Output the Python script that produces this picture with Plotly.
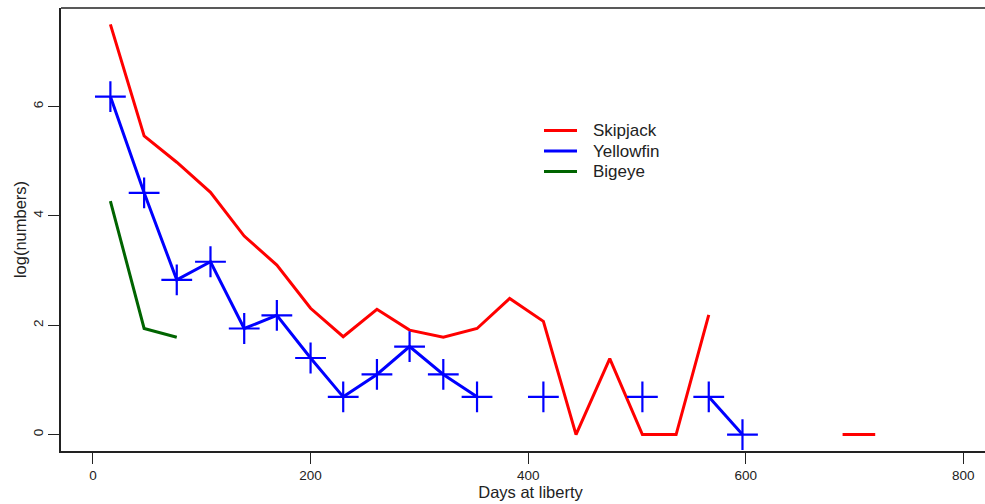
import plotly.graph_objects as go

nan = float("nan")

# Days at liberty (monthly midpoints)
days = [16, 47, 77, 108, 139, 169, 200, 230, 261, 291, 322, 353,
        383, 414, 444, 475, 505, 536, 566, 597, 628, 658, 689, 719]

skipjack = [7.50, 5.46, 4.98, 4.43, 3.63, 3.10, 2.31, 1.79, 2.29, 1.91, 1.78, 1.94,
            2.49, 2.07, 0.00, 1.39, 0.00, 0.00, 2.19, nan, nan, nan, 0.00, 0.00]

yellowfin = [6.18, 4.42, 2.83, 3.16, 1.94, 2.18, 1.40, 0.69, 1.10, 1.61, 1.10, 0.69,
             nan, 0.69, nan, nan, 0.69, nan, 0.69, 0.00, nan, nan, nan, nan]

bigeye_days = [16, 47, 77]
bigeye = [4.27, 1.94, 1.78]

x_ticks = [0, 200, 400, 600, 800]
y_ticks = [0, 2, 4, 6]

legend_names = ["Skipjack", "Yellowfin", "Bigeye"]
legend_colors = ["#FF0000", "#0000FF", "#006400"]

FONT = "Liberation Sans, Arial, sans-serif"
# The R plot box extends past the right edge of the 985px view; the page crops it.
W, H = 1000, 504
ML, MR, MT, MB = 61, 0, 8, 53

fig = go.Figure()
fig.add_trace(go.Scatter(x=days, y=skipjack, mode="lines", name="Skipjack",
                         line=dict(color="#FF0000", width=3), connectgaps=False))
fig.add_trace(go.Scatter(x=days, y=yellowfin, mode="lines+markers", name="Yellowfin",
                         line=dict(color="#0000FF", width=3), connectgaps=False,
                         marker=dict(symbol="cross-thin", size=22,
                                     line=dict(color="#0000FF", width=2.2))))
fig.add_trace(go.Scatter(x=bigeye_days, y=bigeye, mode="lines", name="Bigeye",
                         line=dict(color="#006400", width=3)))

# Manual legend (R-style), positioned in pixels converted to paper coords
pw, ph = W - ML - MR, H - MT - MB
def px(xp):
    return (xp - ML) / pw
def py(yp):
    return 1 - (yp - MT) / ph

rows_y = [130.5, 151, 171.5]
for name, col, yy in zip(legend_names, legend_colors, rows_y):
    fig.add_shape(type="line", xref="paper", yref="paper",
                  x0=px(544), x1=px(577), y0=py(yy), y1=py(yy),
                  line=dict(color=col, width=3.2))
    fig.add_annotation(xref="paper", yref="paper", x=px(591), y=py(yy),
                       text=name, showarrow=False, xanchor="left", yanchor="middle",
                       font=dict(family=FONT, size=17, color="#222222"))

# top border line of the box
fig.add_shape(type="line", xref="paper", yref="paper", x0=0, x1=1, y0=1, y1=1,
              line=dict(color="#222222", width=1.5))

fig.update_layout(
    width=W, height=H,
    margin=dict(l=ML, r=MR, t=MT, b=MB, autoexpand=False),
    plot_bgcolor="white", paper_bgcolor="white",
    font=dict(family=FONT, color="#222222", size=13.5),
    showlegend=False,
    xaxis=dict(range=[-29.4, 833.7], tickvals=x_ticks, ticks="outside", ticklen=11,
               tickwidth=1, tickcolor="#222222", showgrid=False, zeroline=False,
               showline=True, linecolor="#222222", linewidth=1.5, mirror=False,
               automargin=False, tickfont=dict(size=13.5),
               title=dict(text="Days at liberty", font=dict(size=16.5), standoff=0)),
    yaxis=dict(range=[-0.3, 7.8], tickvals=y_ticks, ticks="outside", ticklen=11,
               tickwidth=1, tickcolor="#222222", showgrid=False, zeroline=False,
               showline=True, linecolor="#222222", linewidth=1.5, mirror=False,
               automargin=False, tickangle=-90, tickfont=dict(size=13.5),
               title=dict(text="log(numbers)", font=dict(size=16.5), standoff=0)),
)

fig.write_html(
    "out.html",
    config={"displayModeBar": False},
    post_script="document.body.style.margin='0px';document.body.style.overflow='hidden';",
)
